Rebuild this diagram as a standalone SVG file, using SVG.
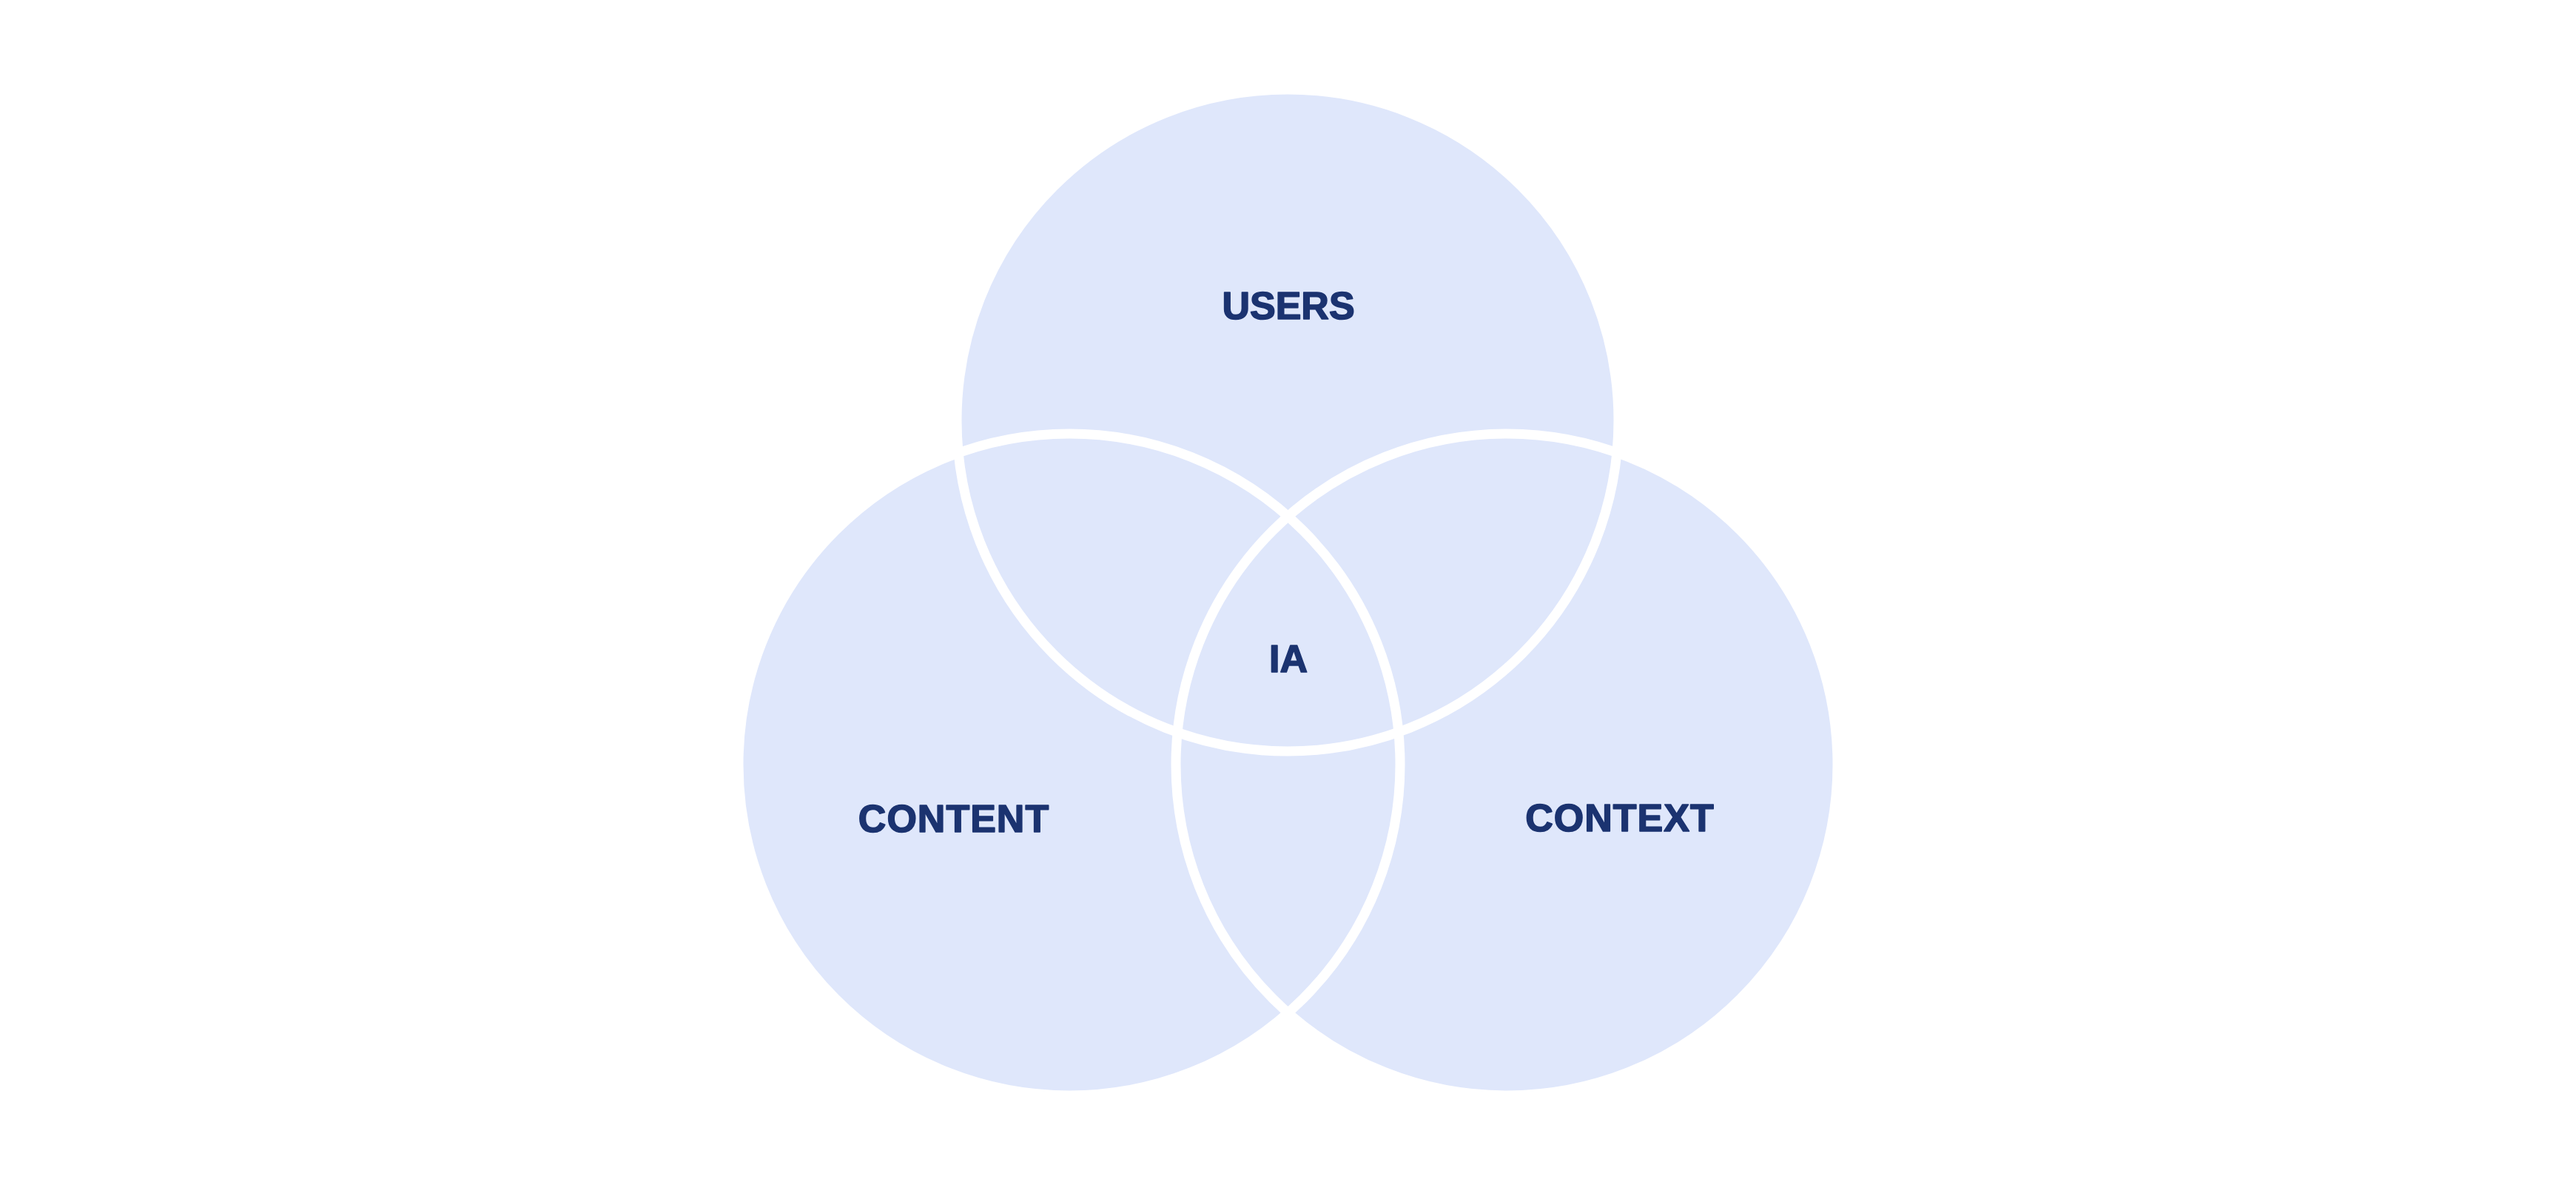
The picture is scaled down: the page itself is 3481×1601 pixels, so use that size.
<svg xmlns="http://www.w3.org/2000/svg" width="3481" height="1601" viewBox="0 0 3481 1601">
  <style>
    .fill { fill: #DFE7FB; stroke: none; }
    .outline { fill: none; stroke: #FFFFFF; stroke-width: 13; }
    .label { font-family: "Liberation Sans", Arial, sans-serif; font-weight: bold; font-size: 52px; fill: #1B3370; stroke: #1B3370; stroke-width: 1.6; stroke-linejoin: round; text-anchor: middle; }
  </style>
  <rect x="0" y="0" width="3481" height="1601" fill="#FFFFFF"/>
  <g id="node-users">
    <circle class="fill" cx="1740" cy="568" r="447"/>
    <text class="label" x="1741" y="431">USERS</text>
  </g>
  <g id="node-content">
    <circle class="fill" cx="1445" cy="1033" r="447"/>
    <text class="label" x="1289" y="1124" letter-spacing="1">CONTENT</text>
  </g>
  <g id="node-context">
    <circle class="fill" cx="2036" cy="1033" r="447"/>
    <text class="label" x="2189" y="1123" letter-spacing="1">CONTEXT</text>
  </g>
  <g id="outlines">
    <circle class="outline" cx="1740" cy="568" r="447"/>
    <circle class="outline" cx="1445" cy="1033" r="447"/>
    <circle class="outline" cx="2036" cy="1033" r="447"/>
  </g>
  <g id="node-ia">
    <text class="label" x="1741" y="908">IA</text>
  </g>
</svg>
